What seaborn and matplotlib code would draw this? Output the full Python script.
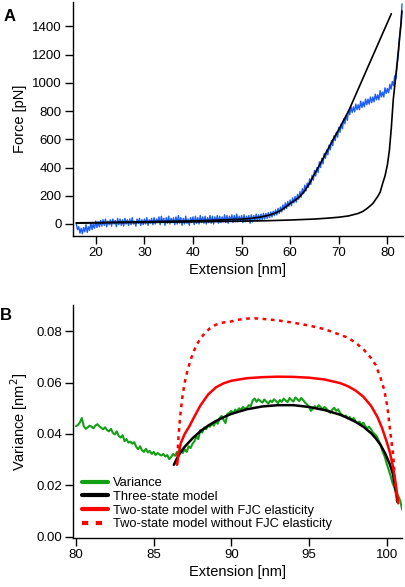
import numpy as np
import matplotlib
matplotlib.use("Agg")
import matplotlib.pyplot as plt
import seaborn as sns

# ---------------- panel A: force-extension ----------------
# measured trace, sampled every 0.25 nm from 16 nm
ext_a_start = 16.0
ext_a_step = 0.25
force_a = [
    0, -40, -20, -65, -30, -70, -25, -55, -5, -60, -20, -45, 10, -40, 0, -30,
    20, -25, 15, -20, 25, -15, 30, -10, 35, -20, 20, -5, 30, -15, 35, 0,
    25, -20, 40, -5, 35, -10, 30, -15, 40, 0, 30, -10, 35, -5, 45, 0,
    20, -15, 35, 5, 40, -10, 30, -5, 35, 0, 45, -10, 30, 5, 40, -5,
    45, 0, 35, 10, 50, -5, 55, 10, 40, -10, 45, 5, 55, 0, 40, 10,
    45, -5, 50, 0, 60, 5, 45, -10, 40, 0, 55, 5, 35, -10, 45, 10,
    50, -5, 55, 5, 45, 0, 60, 10, 50, 5, 55, 0, 45, 10, 60, 5,
    55, 0, 50, 15, 60, 5, 55, 10, 50, 15, 65, 10, 60, 5, 55, 20,
    65, 10, 60, 15, 70, 15, 55, 20, 60, 10, 65, 15, 55, 20, 60, 5,
    65, 15, 60, 25, 70, 20, 65, 25, 70, 30, 75, 35, 75, 40, 80, 45,
    85, 50, 90, 60, 100, 65, 110, 75, 120, 85, 135, 100, 150, 110, 160, 125,
    170, 130, 185, 150, 195, 155, 210, 175, 230, 190, 250, 215, 275, 235, 290, 260,
    320, 280, 345, 310, 380, 340, 400, 365, 440, 400, 465, 425, 500, 465, 525, 490,
    560, 525, 590, 555, 625, 590, 650, 615, 685, 650, 710, 675, 745, 710, 770, 735,
    805, 775, 830, 790, 830, 795, 850, 810, 845, 810, 870, 825, 865, 830, 885, 845,
    885, 850, 900, 860, 900, 865, 920, 880, 915, 880, 945, 900, 935, 900, 965, 925,
    960, 930, 990, 955, 1010, 980, 1050, 1030, 1130, 1200, 1330, 1410, 1560,
]
ext_a = ext_a_start + ext_a_step * np.arange(len(force_a))

# fitted model curves
fit1_x = [16, 20, 25, 30, 35, 40, 45, 50, 52, 54, 55, 56, 57, 58, 59, 60, 61, 62, 63,
          64, 65, 66, 67, 68, 69, 70, 71, 72, 73, 74, 75, 76, 77, 78, 79, 80, 80.8]
fit1_y = [8, 10, 13, 16, 19, 22, 27, 34, 40, 50, 57, 66, 78, 95, 118, 145, 168, 195, 235,
          290, 355, 415, 480, 545, 610, 670, 735, 800, 878, 957, 1035, 1114, 1192, 1270,
          1349, 1427, 1490]
fit2_x = [16, 20, 30, 40, 50, 55, 60, 65, 68, 70, 72, 74, 75, 76, 77, 77.5, 78, 78.5,
          79, 79.5, 80, 80.4, 80.8, 81.2, 81.6, 82.0, 82.4, 82.8, 83.0]
fit2_y = [6, 8, 11, 15, 20, 23, 28, 35, 42, 48, 57, 75, 90, 115, 145, 170, 195, 225,
          285, 340, 420, 520, 680, 880, 1010, 1140, 1280, 1420, 1510]

# ---------------- panel B: variance ----------------
ext_b_start = 80.0
ext_b_step = 0.125
variance = [
    .0430, .0435, .0445, .0462, .0430, .0420, .0425, .0432,
    .0428, .0422, .0433, .0438, .0430, .0424, .0418, .0426,
    .0415, .0410, .0420, .0404, .0398, .0410, .0392, .0386,
    .0395, .0372, .0380, .0366, .0370, .0362, .0368, .0350,
    .0340, .0352, .0336, .0330, .0342, .0328, .0334, .0322,
    .0330, .0318, .0326, .0320, .0316, .0322, .0312, .0318,
    .0302, .0310, .0322, .0315, .0330, .0320, .0335, .0326,
    .0340, .0330, .0352, .0345, .0362, .0372, .0390, .0380,
    .0415, .0405, .0425, .0418, .0432, .0428, .0440, .0432,
    .0448, .0440, .0462, .0470, .0455, .0442, .0478, .0482,
    .0490, .0480, .0495, .0488, .0500, .0494, .0505, .0498,
    .0502, .0512, .0508, .0530, .0538, .0525, .0535, .0528,
    .0522, .0534, .0526, .0518, .0530, .0524, .0535, .0528,
    .0520, .0532, .0525, .0538, .0530, .0524, .0540, .0532,
    .0526, .0542, .0535, .0528, .0540, .0532, .0522, .0515,
    .0505, .0490, .0498, .0508, .0500, .0512, .0504, .0496,
    .0505, .0498, .0490, .0482, .0495, .0502, .0490, .0496,
    .0482, .0475, .0468, .0472, .0460, .0466, .0455, .0462,
    .0450, .0442, .0448, .0436, .0444, .0430, .0422, .0428,
    .0418, .0405, .0398, .0390, .0372, .0355, .0330, .0312,
    .0285, .0262, .0238, .0210, .0190, .0170, .0158, .0140,
    .0105,
]
ext_b = ext_b_start + ext_b_step * np.arange(len(variance))

three_x = [86.3, 86.5, 86.75, 87.0, 87.5, 88.0, 88.5, 89.0, 89.5, 90.0, 91.0, 92.0, 93.0,
           94.0, 95.0, 96.0, 97.0, 97.5, 98.0, 98.5, 99.0, 99.3, 99.6, 99.9, 100.2,
           100.4, 100.6, 100.7]
three_y = [.0280, .0305, .0330, .0350, .0383, .0410, .0432, .0450, .0465, .0478, .0496,
           .0507, .0512, .0512, .0505, .0493, .0475, .0462, .0447, .0428, .0403, .0383,
           .0358, .0325, .0283, .0245, .0175, .0135]

fjc_x = [86.5, 86.6, 86.75, 87.0, 87.3, 87.6, 88.0, 88.5, 89.0, 89.5, 90.0, 91.0, 92.0,
         93.0, 94.0, 95.0, 96.0, 97.0, 97.5, 98.0, 98.5, 99.0, 99.4, 99.7, 100.0, 100.2,
         100.4, 100.55, 100.7, 100.75]
fjc_y = [.0280, .0320, .0365, .0400, .0430, .0465, .0510, .0553, .0581, .0597, .0607,
         .0617, .0621, .0623, .0622, .0619, .0612, .0598, .0586, .0569, .0545, .0509,
         .0467, .0424, .0370, .0330, .0275, .0220, .0155, .0130]

nofjc_x = [86.5, 86.6, 86.7, 86.85, 87.0, 87.15, 87.3, 87.5, 87.75, 88.0, 88.3, 88.6,
           89.0, 89.5, 90.0, 90.5, 91.0, 91.5, 92.0, 93.0, 94.0, 95.0, 96.0, 96.5, 97.0,
           97.5, 98.0, 98.5, 99.0, 99.3, 99.6, 99.85, 100.05, 100.25, 100.4, 100.55,
           100.65]
nofjc_y = [.0280, .0390, .0465, .0545, .0600, .0640, .0672, .0710, .0745, .0770, .0793,
           .0810, .0825, .0834, .0838, .0845, .0849, .0850, .0848, .0842, .0833, .0822,
           .0808, .0797, .0786, .0775, .0755, .0730, .0695, .0668, .0620, .0570, .0505,
           .0400, .0330, .0210, .0140]

legend_labels = ["Variance", "Three-state model", "Two-state model with FJC elasticity",
                 "Two-state model without FJC elasticity"]

# ---------------- style ----------------
sns.set_style("ticks")
plt.rcParams["font.family"] = ["Liberation Sans", "DejaVu Sans"]
plt.rcParams.update({
    "axes.edgecolor": "black",
    "axes.linewidth": 1.0,
    "xtick.color": "black",
    "ytick.color": "black",
    "xtick.labelcolor": "black",
    "ytick.labelcolor": "black",
    "text.color": "black",
    "axes.labelcolor": "black",
    "xtick.major.size": 6,
    "ytick.major.size": 6,
    "xtick.major.width": 1.0,
    "ytick.major.width": 1.0,
    "xtick.major.pad": 2,
    "ytick.major.pad": 2,
    "xtick.labelsize": 9.5,
    "ytick.labelsize": 9.5,
    "axes.labelsize": 10.5,
})

fig = plt.figure(figsize=(4.05, 5.87), dpi=100)
ax_a = fig.add_axes([0.180, 0.598, 0.815, 0.399])
ax_b = fig.add_axes([0.180, 0.0835, 0.813, 0.3965])

# panel A
sns.lineplot(x=ext_a, y=force_a, ax=ax_a, color="#1a5cff", lw=1.0,
             estimator=None, sort=False)
sns.lineplot(x=fit1_x, y=fit1_y, ax=ax_a, color="black", lw=1.2,
             estimator=None, sort=False)
sns.lineplot(x=fit2_x, y=fit2_y, ax=ax_a, color="black", lw=1.2,
             estimator=None, sort=False)
ax_a.set_xlim(15.3, 83.2)
ax_a.set_ylim(-85, 1575)
ax_a.set_xticks(range(20, 81, 10))
ax_a.set_yticks(range(0, 1401, 200))
ax_a.set_xlabel("Extension [nm]", labelpad=3)
ax_a.set_ylabel("Force [pN]", labelpad=4)
sns.despine(ax=ax_a)
fig.text(0.008, 0.985, "A", fontsize=12, fontweight="bold", va="top", ha="left")

# panel B
sns.lineplot(x=ext_b, y=variance, ax=ax_b, color="#14a014", lw=1.5,
             estimator=None, sort=False, label=legend_labels[0])
sns.lineplot(x=three_x, y=three_y, ax=ax_b, color="black", lw=1.8,
             estimator=None, sort=False, label=legend_labels[1])
sns.lineplot(x=fjc_x, y=fjc_y, ax=ax_b, color="#ff0000", lw=1.8,
             estimator=None, sort=False, label=legend_labels[2])
sns.lineplot(x=nofjc_x, y=nofjc_y, ax=ax_b, color="#ff0000", lw=1.8,
             linestyle=(0, (1.5, 1.8)), estimator=None, sort=False,
             label=legend_labels[3])
ax_b.set_xlim(79.8, 101.0)
ax_b.set_ylim(-0.0005, 0.0901)
ax_b.set_xticks(range(80, 101, 5))
ax_b.set_yticks([0.0, 0.02, 0.04, 0.06, 0.08])
ax_b.set_yticklabels(["0.00", "0.02", "0.04", "0.06", "0.08"])
ax_b.set_xlabel("Extension [nm]", labelpad=3)
ax_b.set_ylabel("Variance [nm$^2$]", labelpad=4)
sns.despine(ax=ax_b)
leg = ax_b.legend(loc="lower left", bbox_to_anchor=(0.0, -0.005), frameon=False,
                  fontsize=9.3, handlelength=2.0, handletextpad=0.4,
                  labelspacing=0.12, borderaxespad=0.3)
for line in leg.get_lines():
    line.set_linewidth(3)
fig.text(0.0, 0.475, "B", fontsize=12, fontweight="bold", va="top", ha="left")

fig.savefig("out.png", dpi=100)
